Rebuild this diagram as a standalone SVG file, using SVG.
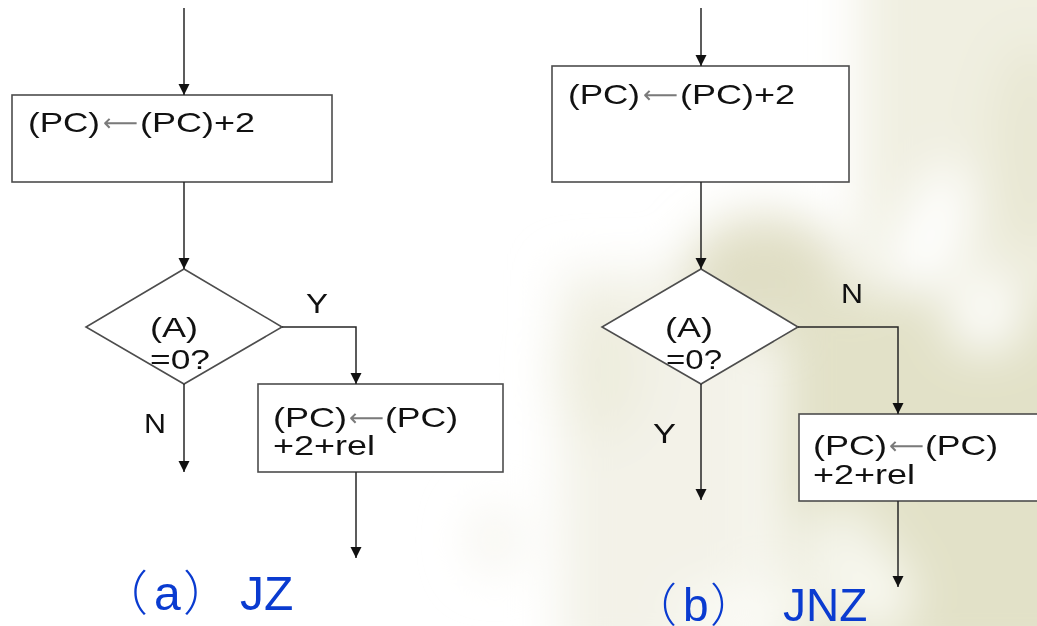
<svg xmlns="http://www.w3.org/2000/svg" width="1037" height="626" viewBox="0 0 1037 626">
  <style>
    .box { fill: #ffffff; stroke: #4d4d4d; stroke-width: 1.6; }
    .flow { fill: none; stroke: #262626; stroke-width: 1.5; marker-end: url(#tip); }
    .t { font-family: "Liberation Sans", Arial, sans-serif; font-size: 28px; fill: #111111; }
    .arr { font-family: "DejaVu Sans", sans-serif; font-size: 24px; fill: #7a7a7a; }
    .cap { font-family: "Liberation Sans", Arial, sans-serif; fill: #0a3bd0; }
    .cjk { font-family: "Noto Sans CJK SC", sans-serif; font-weight: 300; }
  </style>
  <defs>
    <marker id="tip" markerUnits="userSpaceOnUse" markerWidth="12" markerHeight="12" refX="11" refY="6" orient="auto">
      <path d="M0,0.5 L11,6 L0,11.5 z" fill="#111111"/>
    </marker>
    <filter id="soft" x="-30%" y="-30%" width="160%" height="160%">
      <feGaussianBlur stdDeviation="24"/>
    </filter>
  </defs>

  <!-- page -->
  <rect width="1037" height="626" fill="#ffffff"/>

  <!-- faded foliage backdrop on the right -->
  <g filter="url(#soft)">
    <!-- cream sheet top right -->
    <rect x="860" y="-60" width="240" height="360" fill="#f0efe1"/>
    <ellipse cx="1030" cy="150" rx="40" ry="110" fill="#e8e7d3"/>
    <!-- white band across the cream -->
    <ellipse cx="925" cy="250" rx="30" ry="90" fill="#ffffff" transform="rotate(20 925 250)"/>
    <!-- pale mottled lower-left of panel b -->
    <rect x="560" y="270" width="200" height="400" fill="#f3f2e8"/>
    <ellipse cx="600" cy="370" rx="45" ry="70" fill="#eeedde"/>
    <!-- olive leaf mass -->
    <ellipse cx="765" cy="275" rx="80" ry="60" fill="#e0dec5"/>
    <rect x="780" y="290" width="320" height="380" fill="#e2e1c8"/>
    <ellipse cx="840" cy="560" rx="45" ry="55" fill="#f4f4ea"/>
    <ellipse cx="985" cy="315" rx="38" ry="36" fill="#fdfdfa"/>
    <ellipse cx="880" cy="595" rx="30" ry="40" fill="#fafaf3"/>
    <ellipse cx="745" cy="615" rx="70" ry="30" fill="#fbfbf6"/>
    <!-- faint smudge beside panel a -->
    <ellipse cx="495" cy="540" rx="25" ry="35" fill="#f6f5ee"/>
  </g>

  <!-- (a) JZ -->
  <g id="a-inc">
    <rect class="box" x="12" y="95" width="320" height="87"/>
    <text class="t" x="28" y="132" textLength="72" lengthAdjust="spacingAndGlyphs">(PC)</text>
    <text class="arr" x="103" y="131" textLength="35" lengthAdjust="spacingAndGlyphs">⟵</text>
    <text class="t" x="140" y="132" textLength="115" lengthAdjust="spacingAndGlyphs">(PC)+2</text>
  </g>
  <g id="a-test">
    <polygon class="box" points="184,269 282,327 184,384 86,327"/>
    <text class="t" x="150" y="337" textLength="48" lengthAdjust="spacingAndGlyphs">(A)</text>
    <text class="t" x="150" y="369" textLength="60" lengthAdjust="spacingAndGlyphs">=0?</text>
  </g>
  <g id="a-jump">
    <rect class="box" x="258" y="384" width="245" height="88"/>
    <text class="t" x="273" y="427" textLength="74" lengthAdjust="spacingAndGlyphs">(PC)</text>
    <text class="arr" x="349" y="426" textLength="35" lengthAdjust="spacingAndGlyphs">⟵</text>
    <text class="t" x="385" y="427" textLength="73" lengthAdjust="spacingAndGlyphs">(PC)</text>
    <text class="t" x="273" y="455" textLength="102" lengthAdjust="spacingAndGlyphs">+2+rel</text>
  </g>
  <g id="a-labels">
    <text class="t" x="306" y="313" textLength="22" lengthAdjust="spacingAndGlyphs">Y</text>
    <text class="t" x="144" y="433" textLength="22" lengthAdjust="spacingAndGlyphs">N</text>
  </g>
  <g id="a-caption">
    <text class="cap" font-size="48" y="610"><tspan class="cjk" x="100">（</tspan><tspan x="154">a</tspan><tspan class="cjk" x="183">）</tspan><tspan x="240">JZ</tspan></text>
  </g>

  <!-- (b) JNZ -->
  <g id="b-inc">
    <rect class="box" x="552" y="66" width="297" height="116"/>
    <text class="t" x="568" y="104" textLength="72" lengthAdjust="spacingAndGlyphs">(PC)</text>
    <text class="arr" x="643" y="103" textLength="35" lengthAdjust="spacingAndGlyphs">⟵</text>
    <text class="t" x="680" y="104" textLength="115" lengthAdjust="spacingAndGlyphs">(PC)+2</text>
  </g>
  <g id="b-test">
    <polygon class="box" points="701,269 798,327 701,384 602,327"/>
    <text class="t" x="665" y="337" textLength="48" lengthAdjust="spacingAndGlyphs">(A)</text>
    <text class="t" x="666" y="369" textLength="56" lengthAdjust="spacingAndGlyphs">=0?</text>
  </g>
  <g id="b-jump">
    <rect class="box" x="799" y="414" width="260" height="87"/>
    <text class="t" x="813" y="455" textLength="74" lengthAdjust="spacingAndGlyphs">(PC)</text>
    <text class="arr" x="889" y="454" textLength="35" lengthAdjust="spacingAndGlyphs">⟵</text>
    <text class="t" x="925" y="455" textLength="73" lengthAdjust="spacingAndGlyphs">(PC)</text>
    <text class="t" x="813" y="484" textLength="102" lengthAdjust="spacingAndGlyphs">+2+rel</text>
  </g>
  <g id="b-labels">
    <text class="t" x="841" y="303" textLength="22" lengthAdjust="spacingAndGlyphs">N</text>
    <text class="t" x="653" y="443" textLength="23" lengthAdjust="spacingAndGlyphs">Y</text>
  </g>
  <g id="b-caption">
    <text class="cap" font-size="46" y="621"><tspan class="cjk" x="631">（</tspan><tspan x="683">b</tspan><tspan class="cjk" x="710">）</tspan><tspan x="783">JNZ</tspan></text>
  </g>

  <!-- connectors -->
  <g id="connectors">
    <path class="flow" d="M184,8 V95"/>
    <path class="flow" d="M184,182 V269"/>
    <path class="flow" d="M282,327 H356 V384"/>
    <path class="flow" d="M184,384 V472"/>
    <path class="flow" d="M356,472 V558"/>

    <path class="flow" d="M701,8 V66"/>
    <path class="flow" d="M701,182 V269"/>
    <path class="flow" d="M798,327 H898 V414"/>
    <path class="flow" d="M701,384 V500"/>
    <path class="flow" d="M898,501 V587"/>
  </g>
</svg>
